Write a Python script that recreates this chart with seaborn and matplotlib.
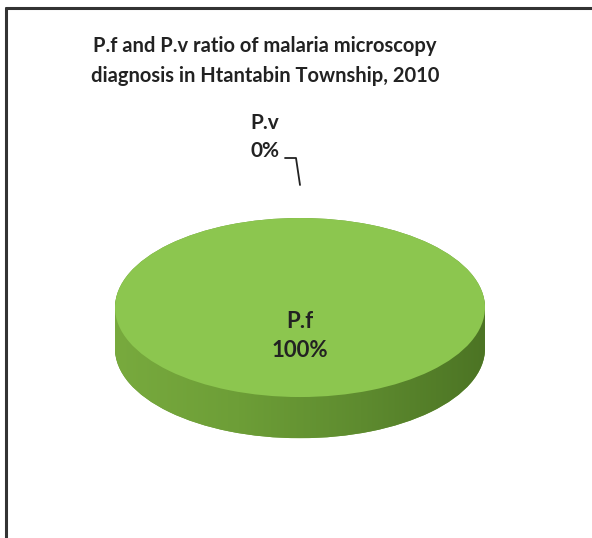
import numpy as np
import matplotlib
matplotlib.use("Agg")
import matplotlib.pyplot as plt
from matplotlib.patches import Rectangle
from matplotlib.colors import LinearSegmentedColormap
import seaborn as sns

# data
species = ["P.f", "P.v"]
share = [100, 0]
title = "P.f and P.v ratio of malaria microscopy\ndiagnosis in Htantabin Township, 2010"

sns.set_theme(style="white")
plt.rcParams["font.family"] = ["Lato", "DejaVu Sans"]

W, H = 592, 538
fig = plt.figure(figsize=(W / 100, H / 100), dpi=100)
fig.patch.set_facecolor("white")

# chart border (left + top only visible)
fig.add_artist(plt.Line2D([6 / W, 6 / W], [0, 1 - 8 / H], color="#333333", lw=2.2))
fig.add_artist(plt.Line2D([6 / W, 1], [1 - 8 / H, 1 - 8 / H], color="#333333", lw=2.2))

fig.text(265 / W, 1 - 61 / H, title, ha="center", va="center", fontsize=14.5,
         fontweight="bold", color="#222222", linespacing=1.6)

# pie axes: top face ellipse spans x 115..485 px, y 218..395 px, side down to 438
depth = 0.46
ax = fig.add_axes([115 / W, (H - 440) / H, 370 / W, 222 / H])

top_green = "#8cc64f"
cols = [top_green, "#5b8fd0"]

# side: stacked copies of the pie, shifted down
n_layers = 30
for k in range(n_layers + 1):
    dy = -depth * k / n_layers
    ax.pie(share, colors=["#6f9e3a", "#4a74a8"], startangle=90, counterclock=False,
           center=(0, dy), radius=1, wedgeprops=dict(linewidth=0))

# gradient shading on side
grad = np.linspace(0, 1, 256)[None, :]
cmap = LinearSegmentedColormap.from_list("side", ["#78aa3e", "#6d9e37", "#5e8b2f", "#4c7424"])
bottom = ax.pie(share, colors=["none", "none"], startangle=90, counterclock=False,
                center=(0, -depth), radius=1, wedgeprops=dict(linewidth=0))[0][0]
rect = Rectangle((-1, -depth), 2, depth, transform=ax.transData, facecolor="none", lw=0)
ax.add_patch(rect)
for clip in [bottom, rect]:
    im = ax.imshow(grad, cmap=cmap, extent=(-1, 1, -1 - depth, 0), aspect="auto", zorder=2)
    im.set_clip_path(clip)

# top face
wedges, _ = ax.pie(share, colors=cols, startangle=90, counterclock=False,
                   radius=1, wedgeprops=dict(linewidth=0))
for w in wedges:
    w.set_zorder(3)

ax.set_xlim(-1.0, 1.0)
ax.set_ylim(-1 - depth - 0.02, 1.0)
ax.set_aspect("auto")
ax.axis("off")

# labels
fig.text(300 / W, 1 - 336 / H, f"{species[0]}\n{share[0]}%", ha="center", va="center",
         fontsize=16, fontweight="bold", color="#222222", linespacing=1.45, zorder=5)

fig.text(265 / W, 1 - 137 / H, f"{species[1]}\n{share[1]}%", ha="center", va="center",
         fontsize=15, fontweight="bold", color="#222222", linespacing=1.45)
fig.add_artist(plt.Line2D([285 / W, 296 / W, 300 / W],
                          [1 - 158 / H, 1 - 158 / H, 1 - 185 / H], color="#222222", lw=1.3))

fig.savefig("out.png", dpi=100, facecolor="white")
